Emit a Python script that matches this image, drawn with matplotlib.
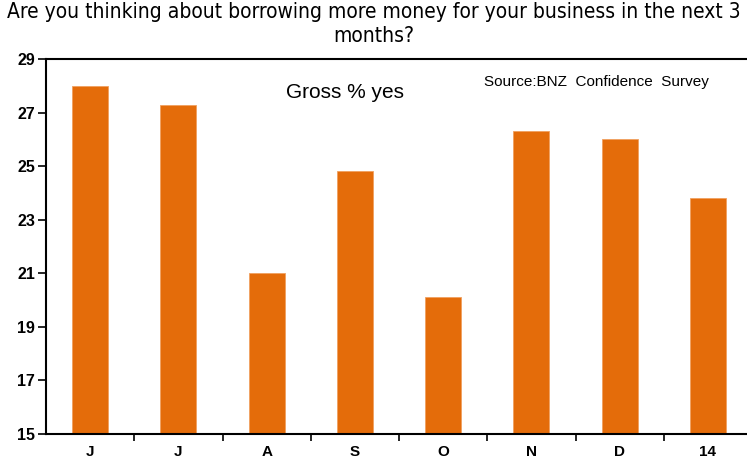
import numpy as np
import matplotlib.pyplot as plt

# Monthly results, gross % answering yes
months = ["J", "J", "A", "S", "O", "N", "D", "14"]
gross_yes = [28.0, 27.3, 21.0, 24.8, 20.1, 26.3, 26.0, 23.8]
y_ticks = [15, 17, 19, 21, 23, 25, 27, 29]

fig = plt.figure(figsize=(7.47, 4.61), dpi=100)
ax = fig.add_axes([46 / 747, 27 / 461, 706 / 747, 375 / 461])

x = np.arange(len(months))
ax.bar(x, gross_yes, width=0.41, bottom=0, color="#E46C0A", edgecolor="#F0A060", linewidth=0.6)

ax.set_ylim(15, 29)
ax.set_xlim(-0.5, len(months) - 0.5)
ax.set_yticks(y_ticks)
ax.set_yticklabels([str(t) for t in y_ticks], fontsize=11.5, fontweight="bold",
                   family=["Liberation Sans", "DejaVu Sans"])
ax.tick_params(axis="y", direction="out", length=6, width=1.2, pad=2)

# category boundaries get the tick marks, labels sit at the centers
ax.set_xticks(x[:-1] + 0.5)
ax.set_xticklabels([])
ax.set_xticks(x, minor=True)
ax.set_xticklabels(months, minor=True, fontsize=11, fontweight="bold",
                   family=["Liberation Sans", "DejaVu Sans"])
ax.tick_params(axis="x", which="major", direction="out", length=5, width=1.2)
ax.tick_params(axis="x", which="minor", length=0, pad=8)

for side in ["left", "bottom", "top"]:
    ax.spines[side].set_linewidth(1.5)
ax.spines["right"].set_visible(False)

fig.text(0.5, 0.995, "Are you thinking about borrowing more money for your business in the next 3\nmonths?",
         ha="center", va="top", fontsize=15, linespacing=1.2, fontstretch="condensed",
         family=["DejaVu Sans"])
ax.text(345 / 747, 1 - 93 / 461, "Gross % yes", transform=fig.transFigure, ha="center", va="center",
        fontsize=15, family=["Liberation Sans", "DejaVu Sans"])
ax.text(596 / 747, 1 - 82 / 461, "Source:BNZ  Confidence  Survey", transform=fig.transFigure,
        ha="center", va="center", fontsize=11, family=["Liberation Sans", "DejaVu Sans"])

fig.savefig("out.png", dpi=100)
